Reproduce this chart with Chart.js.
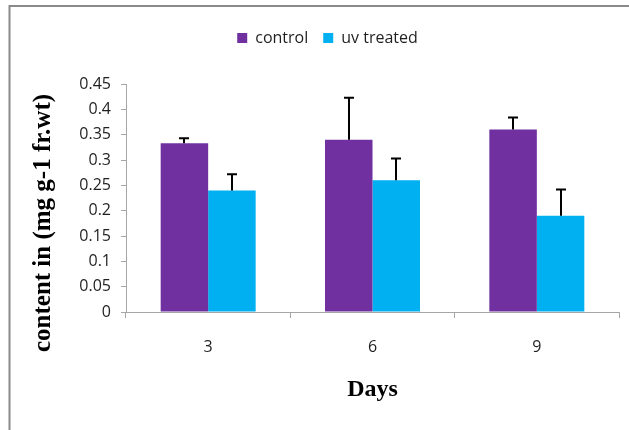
<!DOCTYPE html>
<html>
<head>
<meta charset="utf-8">
<script src="https://cdn.jsdelivr.net/npm/chart.js@4/dist/chart.umd.min.js"></script>
<style>
  html, body { margin: 0; padding: 0; background: #ffffff; }
  #wrap { width: 629px; height: 430px; position: relative; }
</style>
</head>
<body>
<div id="wrap"><canvas id="c" width="629" height="430"></canvas></div>
<script>
// ---- data ----
const categories = ['3', '6', '9'];
const seriesNames = ['control', 'uv treated'];
const controlValues = [0.333, 0.34, 0.36];
const uvValues = [0.24, 0.26, 0.19];
const controlErrors = [0.01, 0.083, 0.024];
const uvErrors = [0.032, 0.043, 0.052];
const yTickLabels = ['0', '0.05', '0.1', '0.15', '0.2', '0.25', '0.3', '0.35', '0.4', '0.45'];
const xTitle = 'Days';
const yTitle = 'content in (mg g-1 fr.wt)';

const PURPLE = '#7030A0';
const BLUE = '#00B0F0';
const AXIS = '#a6a6a6';
const TEXT = '#1f1f1f';
const SANS = "'Open Sans', 'Noto Sans', sans-serif";
const SERIF = "'Liberation Serif', 'DejaVu Serif', serif";

const errorSets = [controlErrors, uvErrors];

const frame = {
  id: 'frame',
  beforeDraw(chart) {
    const ctx = chart.ctx;
    ctx.save();
    ctx.fillStyle = '#ffffff';
    ctx.fillRect(0, 0, chart.width, chart.height);
    ctx.strokeStyle = '#8a8a8a';
    ctx.lineWidth = 2;
    ctx.beginPath();
    ctx.moveTo(9.5, chart.height);
    ctx.lineTo(9.5, 6);
    ctx.lineTo(chart.width, 6);
    ctx.stroke();
    ctx.restore();
  }
};

const errorBars = {
  id: 'errorBars',
  afterDatasetsDraw(chart) {
    const ctx = chart.ctx;
    const yScale = chart.scales.y;
    ctx.save();
    ctx.strokeStyle = '#000000';
    ctx.lineWidth = 2;
    chart.data.datasets.forEach((ds, i) => {
      const meta = chart.getDatasetMeta(i);
      meta.data.forEach((bar, j) => {
        const top = yScale.getPixelForValue(ds.data[j] + errorSets[i][j]);
        const x = Math.round(bar.x) + 0.0;
        ctx.beginPath();
        ctx.moveTo(x, bar.y);
        ctx.lineTo(x, top);
        ctx.moveTo(x - 5, top);
        ctx.lineTo(x + 5, top);
        ctx.stroke();
      });
    });
    ctx.restore();
  }
};

const yTitlePlugin = {
  id: 'yTitlePlugin',
  afterDraw(chart) {
    const ctx = chart.ctx;
    ctx.save();
    ctx.translate(44, 223);
    ctx.rotate(-Math.PI / 2);
    ctx.font = 'bold 25px ' + SERIF;
    ctx.fillStyle = '#000000';
    ctx.textAlign = 'center';
    ctx.textBaseline = 'middle';
    ctx.fillText(yTitle, 0, 0);
    ctx.restore();
  }
};

const legendSpacer = {
  id: 'legendSpacer',
  afterInit(chart) {
    const lg = chart.legend;
    if (lg && !lg._wrapped) {
      const origFit = lg.fit.bind(lg);
      lg.fit = function () {
        origFit();
        this.height = 69;
      };
      lg._wrapped = true;
    }
  }
};

new Chart(document.getElementById('c'), {
  type: 'bar',
  data: {
    labels: categories,
    datasets: [
      { label: seriesNames[0], data: controlValues, backgroundColor: PURPLE, borderWidth: 0 },
      { label: seriesNames[1], data: uvValues, backgroundColor: BLUE, borderWidth: 0 }
    ]
  },
  options: {
    responsive: false,
    animation: false,
    devicePixelRatio: 1,
    layout: { padding: { left: 36, right: 10, top: 15, bottom: 0 } },
    datasets: { bar: { categoryPercentage: 0.578, barPercentage: 1.0 } },
    plugins: {
      legend: {
        position: 'top',
        labels: {
          boxWidth: 10,
          boxHeight: 10,
          padding: 15,
          color: TEXT,
          font: { family: SANS, size: 16 }
        }
      },
      tooltip: { enabled: false }
    },
    scales: {
      x: {
        grid: { display: true, drawOnChartArea: false, drawTicks: true, tickLength: 6, color: AXIS, offset: true },
        border: { display: true, color: AXIS, width: 1 },
        ticks: { color: TEXT, font: { family: SANS, size: 16 }, padding: 20 },
        title: {
          display: true,
          text: xTitle,
          color: '#000000',
          font: { family: SERIF, size: 24, weight: 'bold' },
          padding: { top: 0, bottom: 26 }
        },
        afterFit(scale) { scale.height = 118; }
      },
      y: {
        min: 0,
        max: 0.45,
        grid: { display: true, drawOnChartArea: false, drawTicks: true, tickLength: 5, color: AXIS },
        border: { display: true, color: AXIS, width: 1 },
        ticks: {
          stepSize: 0.05,
          color: TEXT,
          font: { family: SANS, size: 16 },
          padding: 10,
          callback: (v, i) => yTickLabels[i]
        },
        afterFit(scale) { scale.width = 90; }
      }
    }
  },
  plugins: [frame, legendSpacer, errorBars, yTitlePlugin]
});
</script>
</body>
</html>
